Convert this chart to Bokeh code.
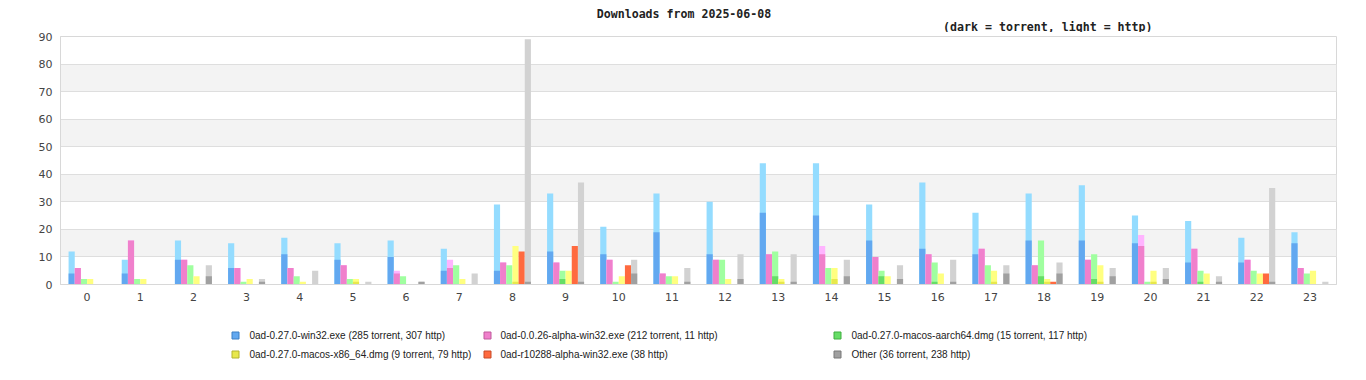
from bokeh.plotting import figure
from bokeh.models import Range1d, FixedTicker
from bokeh.layouts import column
from bokeh.embed import file_html
from bokeh.resources import INLINE
from bokeh.core.properties import value

# ---------------- data ----------------
hours = list(range(24))
hour_labels = [str(h) for h in hours]

series_labels = [
    "0ad-0.27.0-win32.exe (285 torrent, 307 http)",
    "0ad-0.0.26-alpha-win32.exe (212 torrent, 11 http)",
    "0ad-0.27.0-macos-aarch64.dmg (15 torrent, 117 http)",
    "0ad-0.27.0-macos-x86_64.dmg (9 torrent, 79 http)",
    "0ad-r10288-alpha-win32.exe (38 http)",
    "Other (36 torrent, 238 http)",
]

win32_torrent = [4, 4, 9, 6, 11, 9, 10, 5, 5, 12, 11, 19, 11, 26, 25, 16, 13, 11, 16, 16, 15, 8, 8, 15]
win32_http = [8, 5, 7, 9, 6, 6, 6, 8, 24, 21, 10, 14, 19, 18, 19, 13, 24, 15, 17, 20, 10, 15, 9, 4]

alpha26_torrent = [6, 16, 9, 6, 6, 7, 4, 6, 8, 8, 9, 4, 9, 11, 11, 10, 11, 13, 7, 9, 14, 13, 9, 6]
alpha26_http = [0, 0, 0, 0, 0, 0, 1, 3, 0, 0, 0, 0, 0, 0, 3, 0, 0, 0, 0, 0, 4, 0, 0, 0]

aarch64_torrent = [0, 0, 0, 0, 0, 0, 0, 0, 0, 2, 0, 0, 0, 3, 0, 3, 1, 0, 3, 2, 0, 1, 0, 0]
aarch64_http = [2, 2, 7, 1, 3, 2, 3, 7, 7, 3, 1, 3, 9, 9, 6, 2, 7, 7, 13, 9, 1, 4, 5, 4]

x86_torrent = [0, 0, 0, 0, 0, 1, 0, 0, 1, 0, 0, 0, 0, 1, 2, 0, 0, 1, 1, 1, 1, 0, 0, 0]
x86_http = [2, 2, 3, 2, 1, 1, 0, 2, 13, 5, 3, 3, 2, 1, 4, 3, 4, 4, 1, 6, 4, 4, 4, 5]

r10288_torrent = [0] * 24
r10288_http = [0, 0, 0, 0, 0, 0, 0, 0, 12, 14, 7, 0, 0, 0, 0, 0, 0, 0, 1, 0, 0, 0, 4, 0]

other_torrent = [0, 0, 3, 1, 0, 0, 1, 0, 1, 1, 4, 1, 2, 1, 3, 2, 1, 4, 4, 3, 2, 1, 1, 0]
other_http = [0, 0, 4, 1, 5, 1, 0, 4, 88, 36, 5, 5, 9, 10, 6, 5, 8, 3, 4, 3, 4, 2, 34, 1]

y_ticks = [0, 10, 20, 30, 40, 50, 60, 70, 80, 90]

title_text = "Downloads from 2025-06-08"
subtitle_text = "(dark = torrent, light = http)"

# ---------------- styles ----------------
dark_colors = ["#62a8f0", "#f080cc", "#66dd66", "#e8e84c", "#ff6a3f", "#a0a0a0"]
light_colors = ["#94dcff", "#ffb4ff", "#a0ffa0", "#ffff80", "#ff6a3f", "#d2d2d2"]
border_colors = ["#3d7fc4", "#c05a9c", "#3fae3f", "#b4b430", "#c84a28", "#787878"]

torrents = [win32_torrent, alpha26_torrent, aarch64_torrent, x86_torrent, r10288_torrent, other_torrent]
https = [win32_http, alpha26_http, aarch64_http, x86_http, r10288_http, other_http]

W = 1366
BL, BR = 60, 30          # frame from x=60 to x=1336
X0, X1 = BL, W - BR


def blank(height, y0, y1):
    f = figure(width=W, height=height, output_backend="svg", toolbar_location=None,
               x_range=Range1d(X0, X1), y_range=Range1d(y1, y0),
               min_border_left=BL, min_border_right=BR, min_border_top=0, min_border_bottom=0)
    f.axis.visible = False
    f.grid.visible = False
    f.outline_line_color = None
    f.background_fill_color = "white"
    f.border_fill_color = "white"
    return f


# ---------------- header ----------------
HH = 32
head = blank(HH, 0, HH)
head.text(x=[683.5], y=[13], text=[title_text], text_align="center", text_baseline="middle",
          text_font=value("DejaVu Sans Mono"), text_font_size="11.6px", text_font_style="bold",
          text_color="#222222")
head.text(x=[1152], y=[26], text=[subtitle_text], text_align="right", text_baseline="middle",
          text_font=value("DejaVu Sans Mono"), text_font_size="11.6px", text_font_style="bold",
          text_color="#222222")

# ---------------- main chart ----------------
TOP, BOT = 4, 24
p = figure(width=W, height=TOP + 248 + BOT, output_backend="svg", toolbar_location=None,
           x_range=Range1d(-0.5, 23.5), y_range=Range1d(0, 90),
           min_border_left=BL, min_border_right=BR, min_border_top=TOP, min_border_bottom=BOT)
p.background_fill_color = "white"
p.border_fill_color = "white"
p.outline_line_color = "#d8d8d8"
p.outline_line_width = 1

p.xgrid.visible = False
p.ygrid.ticker = FixedTicker(ticks=y_ticks)
p.ygrid.grid_line_color = "#dedede"
p.ygrid.band_fill_color = "#f3f3f3"
p.ygrid.band_fill_alpha = 1.0

p.yaxis.ticker = FixedTicker(ticks=y_ticks)
p.xaxis.ticker = FixedTicker(ticks=hours)
p.xaxis.major_label_overrides = {h: lab for h, lab in zip(hours, hour_labels)}
for ax in (p.xaxis, p.yaxis):
    ax.axis_line_color = "#d8d8d8"
    ax.major_tick_line_color = None
    ax.minor_tick_line_color = None
    ax.major_tick_in = 0
    ax.major_tick_out = 0
    ax.major_label_text_font = "DejaVu Sans"
    ax.major_label_text_font_size = "11px"
    ax.major_label_text_color = "#444444"
p.yaxis.major_label_standoff = 8
p.xaxis.major_label_standoff = 8

bw = 0.116
for i in range(6):
    off = (i - 2.5) * bw
    xs = [h + off for h in hours]
    totals = [t + h for t, h in zip(torrents[i], https[i])]
    p.vbar(x=xs, top=totals, bottom=0, width=bw, fill_color=light_colors[i], line_color=None)
    p.vbar(x=xs, top=torrents[i], bottom=0, width=bw, fill_color=dark_colors[i], line_color=None)

# ---------------- legend ----------------
LY0 = HH + TOP + 248 + BOT
leg = blank(380 - LY0, LY0, 380)

col_sq = [235, 487, 837]
col_tx = [249, 500, 851]
row_y = [335, 354]
sq_x, sq_y, tx_x, tx_y = [], [], [], []
for k in range(6):
    r, c = divmod(k, 3)
    sq_x.append(col_sq[c]); sq_y.append(row_y[r])
    tx_x.append(col_tx[c]); tx_y.append(row_y[r])
leg.scatter(x=sq_x, y=sq_y, marker="square", size=7, fill_color=dark_colors,
            line_color=border_colors, line_width=1)
leg.text(x=tx_x, y=tx_y, text=series_labels, text_baseline="middle", text_align="left",
         text_font=value("Liberation Sans"), text_font_size="10px", text_color="#222222")

layout = column(head, p, leg, spacing=0)
open("out.html", "w").write(file_html(layout, INLINE))
